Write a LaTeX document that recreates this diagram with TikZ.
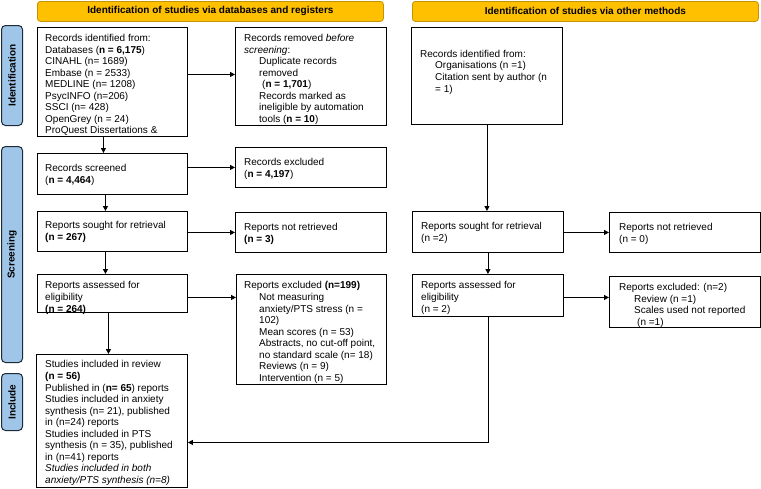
\documentclass[tikz,border=0pt]{standalone}
\usepackage{fontspec}
\setmainfont{Liberation Sans}
\usetikzlibrary{arrows.meta}
\definecolor{banner}{HTML}{FFC000}
\definecolor{bannerline}{HTML}{C49300}
\definecolor{side}{HTML}{9FC5E8}
\definecolor{sideline}{HTML}{1E2A36}
\tikzset{
  box/.style={draw, line width=0.9pt, anchor=north west, inner sep=0pt},
  txt/.style={anchor=north west, align=left, inner sep=0pt, font=\fontsize{10}{11.55}\selectfont},
  bannerbox/.style={draw=bannerline, fill=banner, line width=0.8pt, rounded corners=3pt, anchor=north west, inner sep=0pt, font=\bfseries\fontsize{10}{12}\selectfont},
  sidebox/.style={draw=sideline, fill=side, line width=1pt, rounded corners=4pt, anchor=north west, inner sep=0pt},
  sidetxt/.style={rotate=90, font=\bfseries\fontsize{10}{12}\selectfont, inner sep=0pt},
  arr/.style={line width=0.9pt, -{Triangle[length=5pt,width=5pt]}},
  ln/.style={line width=0.9pt}
}
\newcommand{\ind}{\hspace*{15pt}}
\begin{document}
\begin{tikzpicture}[x=1pt,y=-1pt]
\useasboundingbox (0,0) rectangle (761,488);
% banners
\node[bannerbox, minimum width=346pt, minimum height=20pt] (banL) at (37,1) {Identification of studies via databases and registers};
\node[bannerbox, minimum width=346pt, minimum height=20pt] (banR) at (412,1) {Identification of studies via other methods};
% side labels
\node[sidebox, minimum width=21pt, minimum height=100pt] (sid) at (1,25) {};
\node[sidetxt] (sidt) at (sid.center) {Identification};
\node[sidebox, minimum width=21pt, minimum height=216pt] (sscr) at (1,146) {};
\node[sidetxt] (sscrt) at (sscr.center) {Screening};
\node[sidebox, minimum width=21pt, minimum height=57pt] (sinc) at (1,373) {};
\node[sidetxt] (sinct) at (sinc.center) {Include};
% left column boxes
\node[box, minimum width=150pt, minimum height=109pt] (b1) at (37,27) {};
\node[txt] (t1) at (45,34) {Records identified from:\\Databases (\textbf{n = 6,175})\\CINAHL (n= 1689)\\Embase (n = 2533)\\MEDLINE (n= 1208)\\PsycINFO (n=206)\\SSCI (n= 428)\\OpenGrey (n = 24)\\ProQuest Dissertations \&};
\node[box, minimum width=151pt, minimum height=98pt] (rem) at (235,27) {};
\node[txt] (trem) at (244,34) {Records removed \textit{before}\\\textit{screening}:\\\ind Duplicate records\\\ind removed\\\ind\hspace*{3pt}(\textbf{n = 1,701})\\\ind Records marked as\\\ind ineligible by automation\\\ind tools (\textbf{n = 10})};
\node[box, minimum width=150pt, minimum height=41pt] (scr) at (37,153) {};
\node[txt] (tscr) at (45,164) {Records screened\\(\textbf{n = 4,464})};
\node[box, minimum width=151pt, minimum height=40pt] (exc) at (235,147) {};
\node[txt] (texc) at (244,158) {Records excluded\\(\textbf{n = 4,197})};
\node[box, minimum width=150pt, minimum height=40pt] (sou) at (37,211) {};
\node[txt] (tsou) at (45,221.5) {Reports sought for retrieval\\\textbf{(n = 267)}};
\node[box, minimum width=151pt, minimum height=40pt] (nret) at (235,212) {};
\node[txt] (tnret) at (244,223) {Reports not retrieved\\\textbf{(n = 3)}};
\node[box, minimum width=150pt, minimum height=38pt] (ass) at (37,274) {};
\node[txt] (tass) at (45,281.5) {Reports assessed for\\eligibility\\\textbf{(n = 264)}};
\node[box, minimum width=150pt, minimum height=110pt] (ex2) at (236,274) {};
\node[txt] (tex2) at (244,281.5) {Reports excluded \textbf{(n=199)}\\\ind Not measuring\\\ind anxiety/PTS stress (n =\\\ind 102)\\\ind Mean scores (n = 53)\\\ind Abstracts, no cut-off point,\\\ind no standard scale (n= 18)\\\ind Reviews (n = 9)\\\ind Intervention (n = 5)};
\node[box, minimum width=151pt, minimum height=133pt] (inc) at (36,354) {};
\node[txt] (tinc) at (45,360.5) {Studies included in review\\\textbf{(n = 56)}\\Published in (\textbf{n= 65}) reports\\Studies included in anxiety\\synthesis (n= 21), published\\in (n=24) reports\\Studies included in PTS\\synthesis (n = 35), published\\in (n=41) reports\\\textit{Studies included in both}\\\textit{anxiety/PTS synthesis (n=8)}};
% right column boxes
\node[box, minimum width=151pt, minimum height=97pt] (orec) at (411,27) {};
\node[txt] (torec) at (420,50) {Records identified from:\\\ind Organisations (n =1)\\\ind Citation sent by author (n\\\ind = 1)};
\node[box, minimum width=151pt, minimum height=41pt] (osou) at (412,211) {};
\node[txt] (tosou) at (421,222.5) {Reports sought for retrieval\\(n =2)};
\node[box, minimum width=151pt, minimum height=40pt] (onret) at (609,212) {};
\node[txt] (tonret) at (619,223) {Reports not retrieved\\(n = 0)};
\node[box, minimum width=151pt, minimum height=42pt] (oass) at (412,274) {};
\node[txt] (toass) at (421,281.5) {Reports assessed for\\eligibility\\(n = 2)};
\node[box, minimum width=151pt, minimum height=51pt] (oex) at (609,276) {};
\node[txt] (toex) at (619,283) {Reports excluded: (n=2)\\\ind Review (n =1)\\\ind Scales used not reported\\\ind\hspace*{3pt}(n =1)};
% connectors left
\draw[arr] ([yshift=2pt]b1.east |- rem.west) -- ([yshift=2pt]rem.west);
\draw[arr] ([xshift=-9pt]b1.south) -- ([xshift=-9pt]b1.south |- scr.north);
\draw[arr] (scr.east |- exc.west) -- (exc.west);
\draw[arr] ([xshift=-7pt]scr.south) -- ([xshift=-7pt]scr.south |- sou.north);
\draw[arr] (sou.east |- nret.west) -- (nret.west);
\draw[arr] ([xshift=-7pt]sou.south) -- ([xshift=-7pt]sou.south |- ass.north);
\draw[arr] ([yshift=-4pt]ass.east) -- ([yshift=-4pt]ass.east -| ex2.west);
\draw[arr] ([xshift=-4pt]ass.south) -- ([xshift=-4pt]ass.south |- inc.north);
% connectors right
\draw[arr] (orec.south) -- (orec.south |- osou.north);
\draw[arr] (osou.east |- onret.west) -- (onret.west);
\draw[arr] (osou.south) -- (osou.south |- oass.north);
\draw[arr] ([yshift=-2pt]oass.east) -- ([yshift=-2pt]oass.east -| oex.west);
\draw[arr] (oass.south) |- ([yshift=-21.5pt]inc.east);
\end{tikzpicture}
\end{document}
